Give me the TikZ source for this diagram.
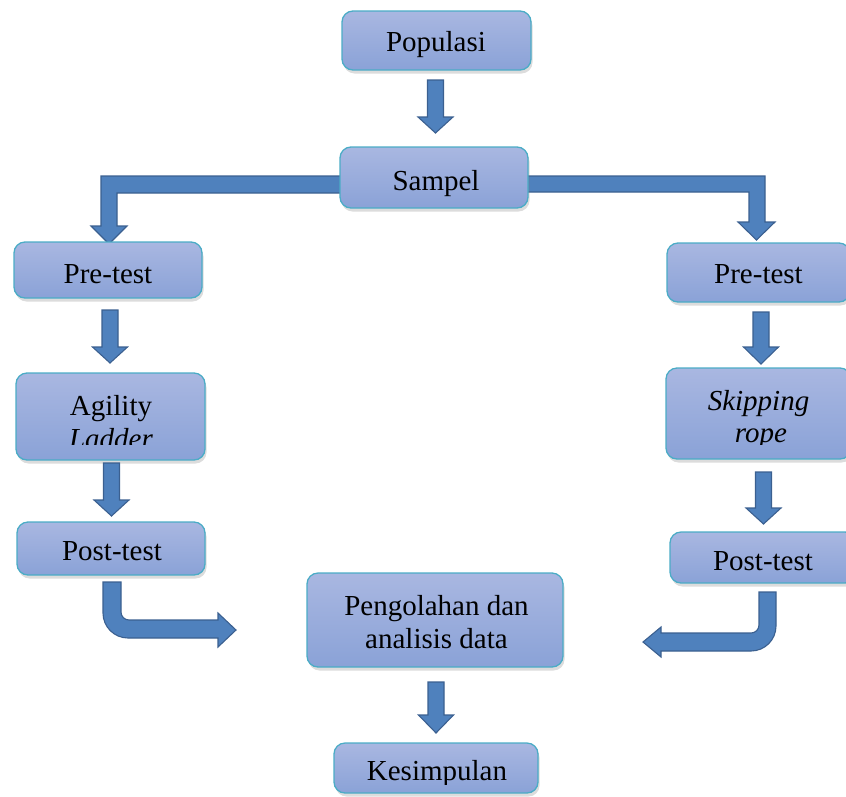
\documentclass[tikz,border=0pt]{standalone}
\usepackage{fontspec}
\setmainfont{Liberation Serif}
\usetikzlibrary{shadows}
\definecolor{boxtop}{HTML}{A9B7E1}
\definecolor{boxbot}{HTML}{8AA2D7}
\definecolor{boxline}{HTML}{4BACC6}
\definecolor{arrfill}{HTML}{4F81BD}
\definecolor{arrline}{HTML}{3B6090}
\tikzset{
 box/.style={rectangle, rounded corners=11pt, draw=boxline, line width=1.3pt,
   top color=boxtop, bottom color=boxbot,
   drop shadow={opacity=0.28, shadow xshift=1.5pt, shadow yshift=-3.5pt},
   inner sep=0pt},
 blockarrow/.style={fill=arrfill, draw=arrline, line width=1.1pt, line join=miter},
 lbl/.style={anchor=base, inner sep=0pt, font=\fontsize{29}{33}\selectfont},
}
\newcommand\blockdown[4]{%
  \draw[blockarrow] (#1-8,#2) -- (#1+8,#2) -- (#1+8,#3) -- (#1+17.5,#3)
    -- (#1,#4) -- (#1-17.5,#3) -- (#1-8,#3) -- cycle;}
\begin{document}
\begin{tikzpicture}[x=1pt,y=-1pt]
\useasboundingbox (0,0) rectangle (846,796);

% bent arrows from Sampel (behind the box)
\draw[blockarrow] (345,176) -- (101,176) -- (101,226) -- (91,226) -- (109,244)
  -- (127,226) -- (117,226) -- (117,193) -- (345,193) -- cycle;
\draw[blockarrow] (525,176) -- (765,176) -- (765,222) -- (775,222) -- (756.5,240)
  -- (738,222) -- (749,222) -- (749,192) -- (525,192) -- cycle;

% boxes
\node[box, minimum width=189pt, minimum height=59pt] (pop) at (436.5,40.5) {};
\node[box, minimum width=188pt, minimum height=61pt] (samp) at (434,177.5) {};
\node[box, minimum width=188pt, minimum height=56pt] (preL) at (108,270) {};
\node[box, minimum width=183pt, minimum height=59pt] (preR) at (758.5,272.5) {};
\node[box, minimum width=189pt, minimum height=87pt] (agil) at (110.5,416.5) {};
\node[box, minimum width=185pt, minimum height=91pt] (skip) at (758.5,413.5) {};
\node[box, minimum width=188pt, minimum height=53pt] (postL) at (111,548.5) {};
\node[box, minimum width=186pt, minimum height=51pt] (postR) at (763,557.5) {};
\node[box, minimum width=256pt, minimum height=94pt] (peng) at (435,620) {};
\node[box, minimum width=204pt, minimum height=50pt] (kes) at (436,768) {};

% labels
\node[lbl] (tpop) at (436,51) {Populasi};
\node[lbl] (tsamp) at (436,190) {Sampel};
\node[lbl] (tpreL) at (108,283) {Pre-test};
\node[lbl] (tpreR) at (758.5,283) {Pre-test};
\node[lbl] (tagil) at (111,415) {Agility};
\node[lbl] (tskip) at (758.5,410) {\itshape Skipping};
\node[lbl] (tpostL) at (112,560) {Post-test};
\node[lbl] (tpostR) at (763,570) {Post-test};
\node[lbl] (tpeng1) at (436.5,615) {Pengolahan dan};
\node[lbl] (tpeng2) at (436.5,648) {analisis data};
\begin{scope}
  \clip (0,0) rectangle (400,444);
  \node[lbl] (tlad) at (111,448) {\itshape Ladder};
\end{scope}
\begin{scope}
  \clip (500,0) rectangle (846,444);
  \node[lbl] (trope) at (761,442) {\itshape rope};
\end{scope}
\begin{scope}
  \clip (0,0) rectangle (846,784);
  \node[lbl] (tkes) at (437,780) {Kesimpulan};
\end{scope}

% straight block arrows
\blockdown{435.5}{80}{117}{133}
\blockdown{110}{310}{347}{363}
\blockdown{111.5}{463}{500}{516}
\blockdown{761}{312}{347}{364}
\blockdown{763.5}{472}{508}{524}
\blockdown{436}{682}{715}{733}

% curved block arrows
\draw[blockarrow] (103,582) [rounded corners=25pt] -- (103,638) [sharp corners]
  -- (218,638) -- (218,647) -- (236,630) -- (218,613) -- (218,620)
  [rounded corners=8pt] -- (121,620) [sharp corners] -- (121,582) -- cycle;
\draw[blockarrow] (776,592) [rounded corners=25pt] -- (776,651) [sharp corners]
  -- (661,651) -- (661,657) -- (643,642) -- (661,627) -- (661,633)
  [rounded corners=8pt] -- (759,633) [sharp corners] -- (759,592) -- cycle;
\end{tikzpicture}
\end{document}
